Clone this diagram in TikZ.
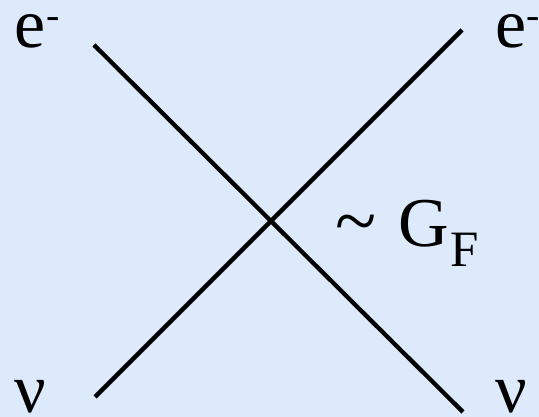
\documentclass[tikz,border=0pt]{standalone}
\usepackage{fontspec}
\setmainfont{Liberation Serif}
\newfontfamily\tms{Liberation Serif}
\definecolor{bgblue}{RGB}{221,234,252}
\newcommand{\eminus}{e\raisebox{19pt}{\fontsize{40}{40}\selectfont -}}
\tikzset{
  lbl/.style={inner sep=0pt, outer sep=0pt, anchor=base west, font=\tms\fontsize{70}{84}\selectfont},
  fermion/.style={line width=4.3pt, black}
}
\begin{document}
\begin{tikzpicture}[x=1pt,y=1pt]
  \fill[bgblue] (0,0) rectangle (539,417);
  \useasboundingbox (0,0) rectangle (539,417);
  % line end points
  \coordinate (a1) at (94,372);
  \coordinate (a2) at (463,5);
  \coordinate (b1) at (95,20);
  \coordinate (b2) at (462,387);
  \draw[fermion] (a1) -- (a2);
  \draw[fermion] (b1) -- (b2);
  % labels
  \node[lbl] (eL) at (15,369) {\eminus};
  \node[lbl] (eR) at (495,369) {\eminus};
  \node[lbl] (nuL) at (15,4) {ν};
  \node[lbl] (nuR) at (495,4) {ν};
  \node[lbl] (gf) at (335,170) {{\fontsize{76}{84}\selectfont\textasciitilde}\hspace{22pt}G\hspace{2pt}\raisebox{-20pt}{\tms\fontsize{51}{60}\selectfont F}};
\end{tikzpicture}
\end{document}
